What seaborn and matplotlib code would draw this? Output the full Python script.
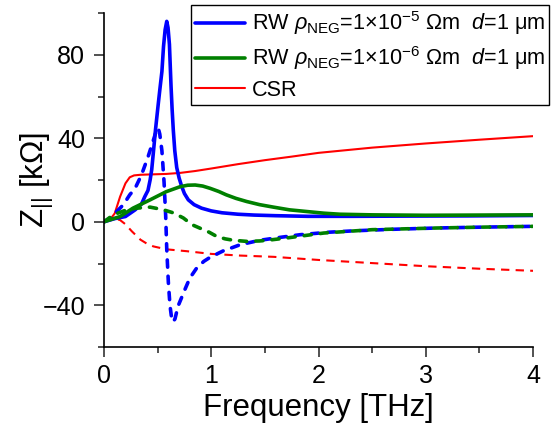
import matplotlib
matplotlib.use("Agg")
import matplotlib.pyplot as plt
import seaborn as sns
import pandas as pd
from matplotlib.lines import Line2D
from matplotlib.ticker import MultipleLocator

# ---------------- data ----------------
# RW rho_NEG = 1e-5 Ohm m, real part (solid) and imaginary part (dashed)
rw5_re_f = [0, 0.1, 0.2, 0.29, 0.35, 0.38, 0.41, 0.43, 0.445, 0.46, 0.48, 0.505, 0.52, 0.54,
            0.555, 0.57, 0.585, 0.597, 0.61, 0.625, 0.635, 0.646, 0.66, 0.678, 0.70, 0.724,
            0.75, 0.786, 0.84, 0.91, 1.0, 1.1, 1.25, 1.4, 1.6, 1.9, 2.3, 2.8, 3.4, 4.0]
rw5_re_z = [0, 1.5, 2.5, 5.7, 8.5, 12, 15, 20, 25, 33, 44, 56, 63, 72,
            84, 92, 96, 93, 85, 65, 54, 44, 34, 26, 21, 17,
            13.5, 10.5, 8.2, 6.5, 5.2, 4.3, 3.6, 3.2, 2.9, 2.6, 2.6, 2.7, 2.8, 3.0]
rw5_im_f = [0, 0.05, 0.1, 0.18, 0.24, 0.29, 0.35, 0.41, 0.46, 0.49, 0.505, 0.52, 0.54, 0.56,
            0.575, 0.585, 0.6, 0.615, 0.63, 0.645, 0.662, 0.69, 0.71, 0.755, 0.80, 0.86,
            0.93, 0.99, 1.11, 1.27, 1.45, 1.64, 1.83, 2.1, 2.35, 2.7, 3.1, 3.5, 4.0]
rw5_im_z = [0, 1.5, 4, 8.1, 12.9, 16, 22.5, 31, 39, 44, 45, 42, 34, 19,
            3, -13, -29, -40, -46, -48, -46.5, -40.5, -38, -32.4, -27, -22.5,
            -19, -17, -14, -11, -8.9, -7.5, -6.2, -5, -4.3, -3.6, -3, -2.6, -2.2]

# RW rho_NEG = 1e-6 Ohm m
rw6_re_f = [0, 0.15, 0.27, 0.43, 0.58, 0.71, 0.78, 0.85, 0.92, 0.99, 1.07, 1.14, 1.23, 1.33,
            1.45, 1.58, 1.73, 1.89, 2.05, 2.2, 2.5, 3.0, 3.5, 4.0]
rw6_re_z = [0, 2.5, 6.5, 10.5, 14.4, 16.8, 17.5, 17.6, 17.1, 16, 14.5, 12.9, 11.2, 9.7,
            8.2, 7, 5.7, 4.9, 4.1, 3.6, 3.3, 3.1, 3.2, 3.3]
rw6_im_f = [0, 0.087, 0.2, 0.3, 0.43, 0.55, 0.65, 0.74, 0.82, 0.9, 0.98, 1.05, 1.13, 1.21,
            1.33, 1.45, 1.52, 1.7, 1.86, 2.05, 2.5, 3.1, 3.5, 4.0]
rw6_im_z = [0, 3.3, 5.5, 6.5, 7.0, 5.8, 4.2, 1.8, -1.4, -3.2, -5, -7, -8.2, -8.9,
            -9.4, -9.2, -8.9, -7.8, -6.7, -5.4, -3.8, -3, -2.6, -2.2]

# CSR
csr_re_f = [0, 0.05, 0.1, 0.15, 0.2, 0.24, 0.28, 0.34, 0.45, 0.58, 0.71, 0.85, 1.0, 1.25,
            1.5, 1.75, 2.0, 2.5, 3.0, 3.5, 4.0]
csr_re_z = [0, 0.6, 4, 12, 18.4, 21.3, 22.2, 22.5, 22.7, 22.9, 23.4, 24.3, 25.5, 27.6,
            29.5, 31.2, 33, 35.5, 37.5, 39.3, 41]
csr_im_f = [0, 0.05, 0.1, 0.15, 0.2, 0.26, 0.34, 0.4, 0.46, 0.58, 0.77, 1.0, 1.27, 1.58,
            1.86, 2.0, 2.5, 3.0, 3.5, 4.0]
csr_im_z = [0, 0.8, 1.5, 0.8, -1.2, -4.6, -8.6, -10.5, -11.8, -13.2, -14.1, -15.4, -16.2, -16.8,
            -17.8, -18.3, -19.8, -21.3, -22.5, -23.5]

labels = [r'RW $\rho_{\mathrm{NEG}}$=1×10$^{-5}$ Ωm  $d$=1 μm',
          r'RW $\rho_{\mathrm{NEG}}$=1×10$^{-6}$ Ωm  $d$=1 μm',
          'CSR']
x_ticks = [0, 1, 2, 3, 4]
y_ticks = [-40, 0, 40, 80]

# ---------------- style ----------------
sns.set_style("ticks")
plt.rcParams['font.family'] = ['Liberation Sans', 'DejaVu Sans']
plt.rcParams['mathtext.fontset'] = 'custom'
plt.rcParams['mathtext.rm'] = 'Liberation Sans'
plt.rcParams['mathtext.it'] = 'Liberation Sans:italic'
plt.rcParams['mathtext.bf'] = 'Liberation Sans:bold'
for k in ('text.color', 'axes.labelcolor', 'xtick.color', 'ytick.color', 'axes.edgecolor'):
    plt.rcParams[k] = 'black'

BLUE = '#0000ff'
GREEN = '#008000'
RED = '#ff0000'

fig = plt.figure(figsize=(5.53, 4.37), dpi=100)
ax = fig.add_axes([104/553, 1-347/437, (533-104)/553, (347-13)/437])

def draw(f, z, color, lw, dashed=None, cap='round'):
    df = pd.DataFrame({'f': f, 'z': z})
    kw = {}
    if dashed is not None:
        kw['linestyle'] = (0, dashed)
        kw['dash_capstyle'] = cap
    sns.lineplot(data=df, x='f', y='z', ax=ax, color=color, lw=lw, legend=False,
                 estimator=None, sort=False, **kw)

draw(csr_re_f, csr_re_z, RED, 1.5)
draw(csr_im_f, csr_im_z, RED, 1.5, dashed=(4, 3), cap='butt')
draw(rw5_re_f, rw5_re_z, BLUE, 2.6)
draw(rw5_im_f, rw5_im_z, BLUE, 2.6, dashed=(2.0, 2.5))
draw(rw6_re_f, rw6_re_z, GREEN, 2.6)
draw(rw6_im_f, rw6_im_z, GREEN, 2.6, dashed=(2.0, 2.5))

ax.set_xlim(0, 4)
ax.set_ylim(-60, 100)
ax.set_xticks(x_ticks)
ax.set_yticks(y_ticks)
ax.xaxis.set_minor_locator(MultipleLocator(0.5))
ax.yaxis.set_minor_locator(MultipleLocator(20))
ax.tick_params(which='major', direction='out', length=7, width=1.2, labelsize=18,
               color='#333333', labelcolor='black')
ax.tick_params(which='minor', direction='out', length=4, width=1.2, color='#333333')
ax.tick_params(axis='y', pad=6.5)
ax.tick_params(axis='x', pad=5)
sns.despine(ax=ax)
for s in ('left', 'bottom'):
    ax.spines[s].set_linewidth(1.2)
    ax.spines[s].set_color('black')

ax.set_xlabel('Frequency [THz]', fontsize=22.5, color='black')
ax.set_ylabel(r'Z$_{||}$ [kΩ]', fontsize=22.5, color='black')
ax.yaxis.set_label_coords(-0.112, 0.5)

handles = [Line2D([], [], color=BLUE, lw=2.6),
           Line2D([], [], color=GREEN, lw=2.6),
           Line2D([], [], color=RED, lw=1.5)]
leg = fig.legend(handles, labels, loc='upper left',
                 bbox_to_anchor=(191/553, 1-5/437), bbox_transform=fig.transFigure,
                 borderaxespad=0, fontsize=15.6, frameon=True, fancybox=False,
                 framealpha=1, edgecolor='black', handlelength=2.3,
                 handletextpad=0.3, borderpad=0.2, labelspacing=0.34)
leg.get_frame().set_linewidth(1.0)
for t in leg.get_texts():
    t.set_color('black')

fig.savefig('out.png', dpi=100)
